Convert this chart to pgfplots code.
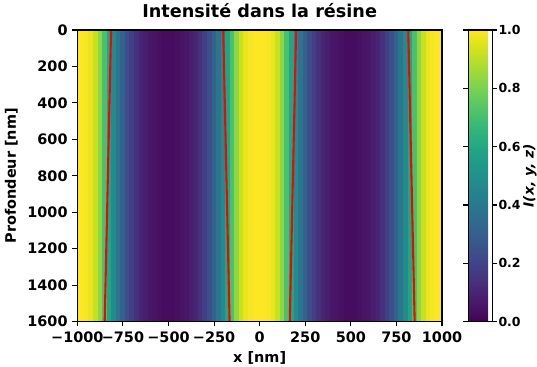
\documentclass[border=0pt]{standalone}
\usepackage{pgfplots}
\usepackage{pgfplotstable}
\pgfplotsset{compat=1.18}
\usepackage{fontspec}
\setmainfont{DejaVu Sans}
\pgfplotstableread{
x y I
-1000 400 1.00
-975 400 1.00
-950 400 0.99
-925 400 0.97
-900 400 0.92
-875 400 0.83
-850 400 0.71
-825 400 0.59
-800 400 0.48
-775 400 0.39
-750 400 0.31
-725 400 0.24
-700 400 0.18
-675 400 0.14
-650 400 0.10
-625 400 0.08
-600 400 0.06
-575 400 0.05
-550 400 0.04
-525 400 0.03
-500 400 0.03
-475 400 0.03
-450 400 0.04
-425 400 0.05
-400 400 0.06
-375 400 0.08
-350 400 0.10
-325 400 0.14
-300 400 0.18
-275 400 0.24
-250 400 0.31
-225 400 0.39
-200 400 0.48
-175 400 0.59
-150 400 0.71
-125 400 0.83
-100 400 0.92
-75 400 0.97
-50 400 0.99
-25 400 1.00
0 400 1.00
25 400 1.00
50 400 0.99
75 400 0.97
100 400 0.92
125 400 0.83
150 400 0.71
175 400 0.59
200 400 0.48
225 400 0.39
250 400 0.31
275 400 0.24
300 400 0.18
325 400 0.14
350 400 0.10
375 400 0.08
400 400 0.06
425 400 0.05
450 400 0.04
475 400 0.03
500 400 0.03
525 400 0.03
550 400 0.04
575 400 0.05
600 400 0.06
625 400 0.08
650 400 0.10
675 400 0.14
700 400 0.18
725 400 0.24
750 400 0.31
775 400 0.39
800 400 0.48
825 400 0.59
850 400 0.71
875 400 0.83
900 400 0.92
925 400 0.97
950 400 0.99
975 400 1.00
1000 400 1.00
-1000 1200 1.00
-975 1200 1.00
-950 1200 0.99
-925 1200 0.97
-900 1200 0.92
-875 1200 0.83
-850 1200 0.71
-825 1200 0.59
-800 1200 0.48
-775 1200 0.39
-750 1200 0.31
-725 1200 0.24
-700 1200 0.18
-675 1200 0.14
-650 1200 0.10
-625 1200 0.08
-600 1200 0.06
-575 1200 0.05
-550 1200 0.04
-525 1200 0.03
-500 1200 0.03
-475 1200 0.03
-450 1200 0.04
-425 1200 0.05
-400 1200 0.06
-375 1200 0.08
-350 1200 0.10
-325 1200 0.14
-300 1200 0.18
-275 1200 0.24
-250 1200 0.31
-225 1200 0.39
-200 1200 0.48
-175 1200 0.59
-150 1200 0.71
-125 1200 0.83
-100 1200 0.92
-75 1200 0.97
-50 1200 0.99
-25 1200 1.00
0 1200 1.00
25 1200 1.00
50 1200 0.99
75 1200 0.97
100 1200 0.92
125 1200 0.83
150 1200 0.71
175 1200 0.59
200 1200 0.48
225 1200 0.39
250 1200 0.31
275 1200 0.24
300 1200 0.18
325 1200 0.14
350 1200 0.10
375 1200 0.08
400 1200 0.06
425 1200 0.05
450 1200 0.04
475 1200 0.03
500 1200 0.03
525 1200 0.03
550 1200 0.04
575 1200 0.05
600 1200 0.06
625 1200 0.08
650 1200 0.10
675 1200 0.14
700 1200 0.18
725 1200 0.24
750 1200 0.31
775 1200 0.39
800 1200 0.48
825 1200 0.59
850 1200 0.71
875 1200 0.83
900 1200 0.92
925 1200 0.97
950 1200 0.99
975 1200 1.00
1000 1200 1.00
}\profile
\pgfplotsset{
  every axis/.append style={
    /pgf/number format/assume math mode=true,
    /pgf/number format/1000 sep={},
    tick align=outside,
    major tick length=3.5pt,
    every tick/.style={black, line width=0.8pt},
    axis line style={line width=0.8pt},
    ticklabel style={font=\fontsize{10.4}{12}\selectfont\bfseries},
    label style={font=\fontsize{10.4}{12}\selectfont\bfseries},
  }
}
\begin{document}
\begin{tikzpicture}
\path[use as bounding box] (-55.7pt,-32.6pt) rectangle (331pt,231.6pt);
\begin{axis}[
  at={(0,0)}, anchor=south west,
  scale only axis,
  width=262.6pt, height=210pt,
  xmin=-1000, xmax=1000, ymin=0, ymax=1600,
  y dir=reverse,
  axis on top,
  colormap/viridis,
  point meta min=0, point meta max=1,
  xtick={-1000,-750,-500,-250,0,250,500,750,1000},
  xticklabels={−1000,−750,−500,−250,0,250,500,750,1000},
  ytick={0,200,400,600,800,1000,1200,1400,1600},
  yticklabels={0,200,400,600,800,1000,1200,1400,1600},
  tick pos=left,
  title style={font=\fontsize{12.7}{14}\selectfont\bfseries, yshift=-1pt},
  title={Intensité dans la résine},
  xlabel={x [nm]}, ylabel={Profondeur [nm]},
  colorbar,
  colorbar style={
    width=17.3pt,
    at={(parent axis.north east)}, anchor=north west, xshift=18.9pt-0.3cm,
    ytick={0,0.2,0.4,0.6,0.8,1},
    yticklabels={0.0,0.2,0.4,0.6,0.8,1.0},
    yticklabel style={inner xsep=0.8pt, font=\fontsize{9}{11}\selectfont\bfseries},
    ylabel={\itshape I(x, y, z)},
    ylabel style={at={(axis description cs:2.56,0.5)}, anchor=center,
      font=\fontsize{10}{12}\selectfont\bfseries},
    tick align=outside,
  },
]
\addplot[matrix plot*, mesh/cols=81, point meta=explicit]
  table[x=x, y=y, meta=I] {\profile};
\addplot[red, line width=1.5pt] coordinates {(-815,0) (-850,1600)};
\addplot[red, line width=1.5pt] coordinates {(-200,0) (-165,1600)};
\addplot[red, line width=1.5pt] coordinates {(200,0) (165,1600)};
\addplot[red, line width=1.5pt] coordinates {(815,0) (850,1600)};
\end{axis}
\end{tikzpicture}
\end{document}
